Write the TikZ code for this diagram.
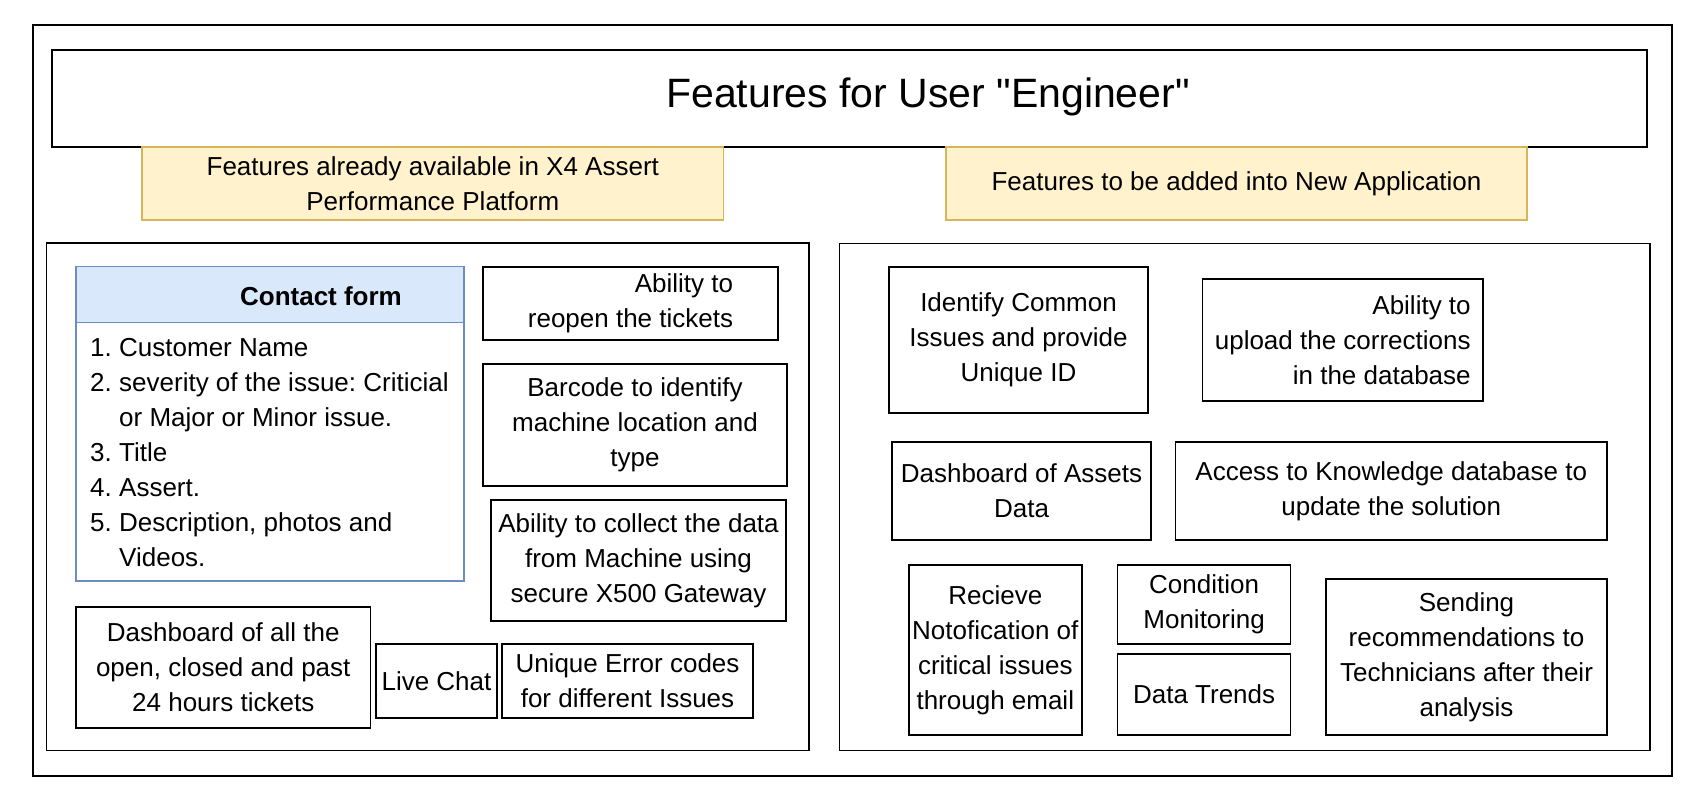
\documentclass[tikz,border=0pt]{standalone}
\usepackage{fontspec}
\setmainfont{Liberation Sans}
\newfontfamily\titlefont{Liberation Sans}[Ligatures=TeXOff]
\definecolor{ylwfill}{HTML}{FFF2CC}
\definecolor{ylwdraw}{HTML}{D6B656}
\definecolor{cffill}{HTML}{DAE8FC}
\definecolor{cfdraw}{HTML}{6C8EBF}
\newcommand{\bodyfs}{\fontsize{26}{35}\selectfont}
\newcommand{\titlefs}{\titlefont\fontsize{41}{49}\selectfont}
\frenchspacing
\begin{document}
\begin{tikzpicture}[x=1pt,y=-1pt,
  featbox/.style={draw=black, line width=1.7pt, inner sep=0pt, align=center, font=\bodyfs},
  panel/.style={draw=black, line width=1.5pt, inner sep=0pt},
  hdrbox/.style={draw=ylwdraw, fill=ylwfill, line width=1.2pt, inner sep=0pt, align=center, font=\bodyfs},
  txt/.style={inner sep=0pt, font=\bodyfs}]
\useasboundingbox (0,0) rectangle (1694,801);
% outer frame and title
\node[draw=black, line width=2.6pt, minimum width=1639pt, minimum height=751pt, inner sep=0pt] (outer) at (852.5,400.5) {};
\node[draw=black, line width=2pt, minimum width=1595.5pt, minimum height=97pt, inner sep=0pt] (titlebox) at (849.25,98.5) {};
\node[inner sep=0pt, font=\titlefs, anchor=base] (titletext) at (928,107) {Features for User "Engineer"};
% section headers
\node[hdrbox, minimum width=581.6pt, minimum height=73pt] (hdrleft) at (432.8,183.5) {Features already available in X4 Assert\\Performance Platform};
\node[hdrbox, minimum width=581pt, minimum height=73pt] (hdrright) at (1236.5,183.5) {Features to be added into New Application};
% panels
\node[panel, minimum width=762.3pt, minimum height=507.7pt] (leftpanel) at (427.85,496.85) {};
\node[panel, minimum width=810.6pt, minimum height=507.4pt] (rightpanel) at (1244.7,497) {};
% contact form
\node[draw=cfdraw, line width=1.5pt, minimum width=388pt, minimum height=314.3pt, inner sep=0pt] (cfbody) at (270,423.85) {};
\node[draw=cfdraw, fill=cffill, line width=1.5pt, minimum width=388pt, minimum height=56pt, inner sep=0pt] (cfhead) at (270,294.7) {};
\node[txt, anchor=base, font=\bodyfs\bfseries] (cftitle) at (321,305) {Contact form};
\node[txt, anchor=north west, align=left] (cflist) at (90,338.4) {%
\makebox[29pt][l]{1.}Customer Name\\
\makebox[29pt][l]{2.}severity of the issue: Criticial\\
\hspace*{29pt}or Major or Minor issue.\\
\makebox[29pt][l]{3.}Title\\
\makebox[29pt][l]{4.}Assert.\\
\makebox[29pt][l]{5.}Description, photos and\\
\hspace*{29pt}Videos.};
% left panel boxes
\node[featbox, align=right, minimum width=295pt, minimum height=73.3pt] (reopen) at (630.5,303.35) {Ability to\\reopen the tickets};
\node[featbox, minimum width=304pt, minimum height=122pt] (barcode) at (635,425) {Barcode to identify\\machine location and\\type};
\node[featbox, minimum width=295pt, minimum height=120.7pt] (collect) at (638.5,560.35) {Ability to collect the data\\from Machine using\\secure X500 Gateway};
\node[featbox, minimum width=294.5pt, minimum height=121pt] (dashall) at (223.25,667.2) {Dashboard of all the\\open, closed and past\\24 hours tickets};
\node[featbox, minimum width=121pt, minimum height=73.7pt] (livechat) at (436.5,680.85) {Live Chat};
\node[featbox, minimum width=251pt, minimum height=73.7pt] (errcodes) at (627.5,680.85) {Unique Error codes\\for different Issues};
% right panel boxes
\node[featbox, minimum width=259pt, minimum height=146pt] (identify) at (1018.5,339.7) {Identify Common\\Issues and provide\\Unique ID};
\node[featbox, align=right, minimum width=280.5pt, minimum height=121.4pt] (upload) at (1342.75,340) {Ability to\\upload the corrections\\in the database};
\node[featbox, minimum width=259pt, minimum height=98pt] (dashassets) at (1021.5,491) {Dashboard of Assets\\Data};
\node[featbox, minimum width=431.5pt, minimum height=98pt] (knowledge) at (1391.25,491) {Access to Knowledge database to\\update the solution};
\node[featbox, minimum width=173pt, minimum height=170pt] (notify) at (995.3,650) {Recieve\\Notofication of\\critical issues\\through email};
\node[featbox, minimum width=173pt, minimum height=79.3pt] (condition) at (1204.1,604.65) {Condition\\Monitoring};
\node[featbox, minimum width=173pt, minimum height=81pt] (trends) at (1204.1,694.5) {Data Trends};
\node[featbox, minimum width=281pt, minimum height=155.7pt] (sending) at (1466.5,657.15) {Sending\\recommendations to\\Technicians after their\\analysis};
\end{tikzpicture}
\end{document}
